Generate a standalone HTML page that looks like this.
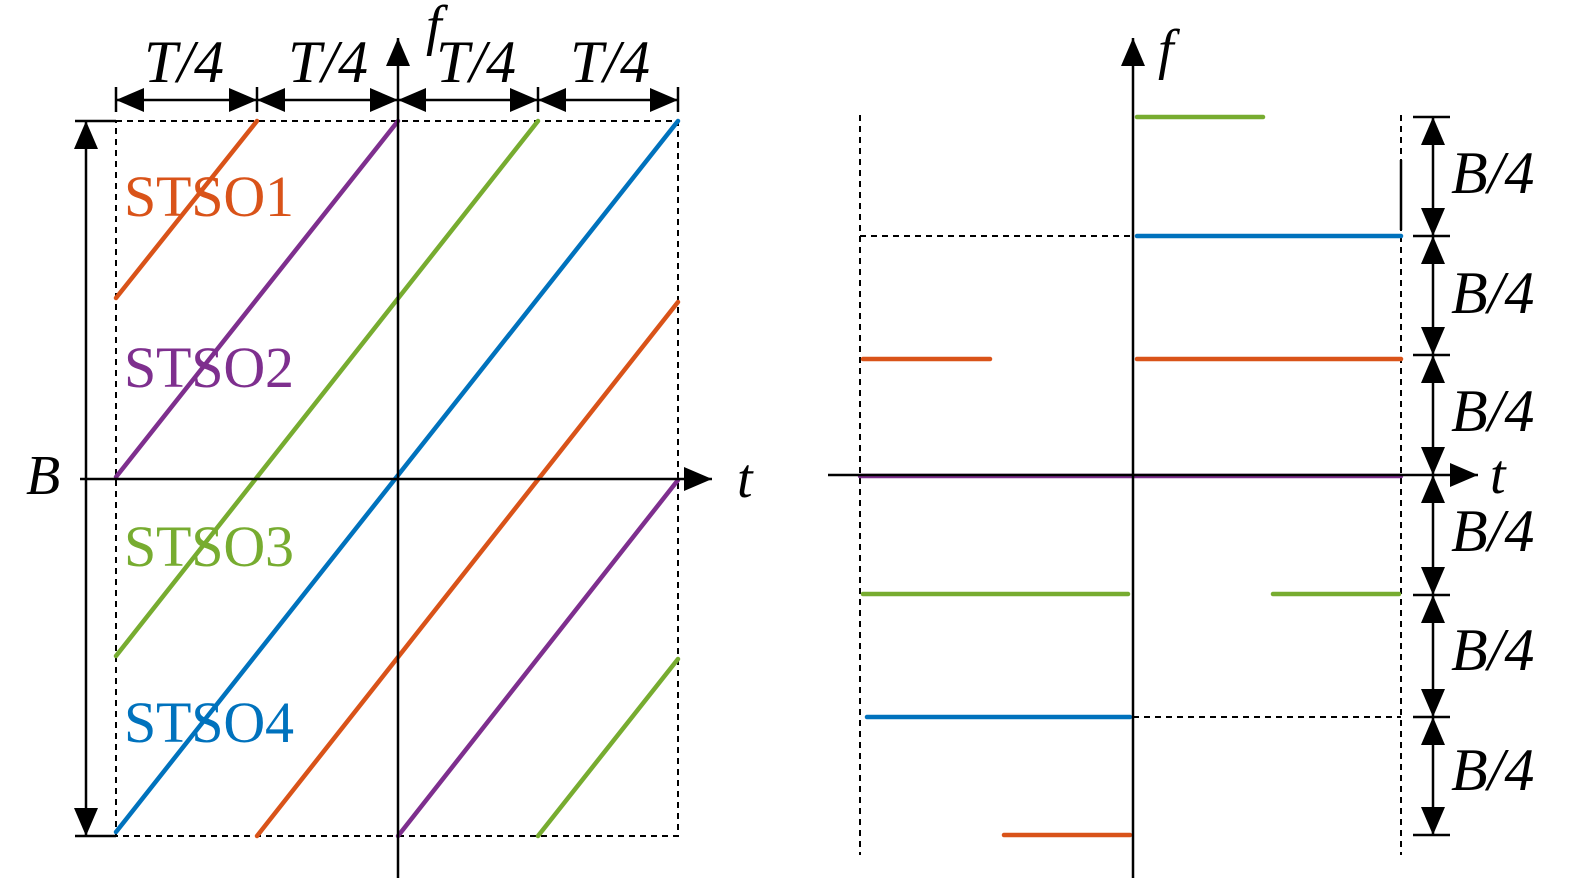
<!DOCTYPE html>
<html><head><style>body{margin:0;background:#fff}</style></head><body>
<svg width="1575" height="886" xmlns="http://www.w3.org/2000/svg" font-family="Liberation Serif, serif">
<defs>
<marker id="a" viewBox="0 0 28 24" refX="28" refY="12" markerWidth="28" markerHeight="24" markerUnits="userSpaceOnUse" orient="auto-start-reverse"><path d="M0,0L28,12L0,24z"/></marker>
</defs>
<g stroke="#000" stroke-width="2" stroke-dasharray="6,5" fill="none">
<rect x="116" y="121" width="562" height="715"/>
<line x1="860" y1="115" x2="860" y2="855"/>
<line x1="1401" y1="115" x2="1401" y2="855"/>
<line x1="860" y1="236" x2="1133" y2="236"/>
<line x1="1133" y1="717" x2="1401" y2="717"/>
</g>
<g stroke-width="4.5" stroke-linecap="round">
<line x1="116" y1="298" x2="257" y2="121" stroke="#d95319"/>
<line x1="257" y1="836" x2="678" y2="302" stroke="#d95319"/>
<line x1="116" y1="477" x2="398" y2="121" stroke="#7e2f8e"/>
<line x1="398" y1="836" x2="678" y2="480" stroke="#7e2f8e"/>
<line x1="116" y1="656" x2="538" y2="121" stroke="#77ac30"/>
<line x1="538" y1="836" x2="678" y2="659" stroke="#77ac30"/>
<line x1="116" y1="832" x2="678" y2="121" stroke="#0072bd"/>
<line x1="1137" y1="117" x2="1263" y2="117" stroke="#77ac30"/>
<line x1="1137" y1="236" x2="1401" y2="236" stroke="#0072bd"/>
<line x1="863" y1="359" x2="990" y2="359" stroke="#d95319"/>
<line x1="1137" y1="359" x2="1401" y2="359" stroke="#d95319"/>
<line x1="860" y1="476" x2="1401" y2="476" stroke="#7e2f8e"/>
<line x1="863" y1="594" x2="1128" y2="594" stroke="#77ac30"/>
<line x1="1273" y1="594" x2="1399" y2="594" stroke="#77ac30"/>
<line x1="867" y1="717" x2="1130" y2="717" stroke="#0072bd"/>
<line x1="1004" y1="835" x2="1130" y2="835" stroke="#d95319"/>
</g>
<g stroke="#000" stroke-width="2.5" fill="none">
<line x1="398" y1="878" x2="398" y2="38" marker-end="url(#a)"/>
<line x1="80" y1="479" x2="712" y2="479" marker-end="url(#a)"/>
<line x1="1133" y1="878" x2="1133" y2="38" marker-end="url(#a)"/>
<line x1="828" y1="475" x2="1478" y2="475" marker-end="url(#a)"/>
<line x1="116" y1="87" x2="116" y2="112"/><line x1="257" y1="87" x2="257" y2="112"/>
<line x1="538" y1="87" x2="538" y2="112"/><line x1="678" y1="87" x2="678" y2="112"/>
<line x1="75" y1="121" x2="116" y2="121"/><line x1="75" y1="836" x2="116" y2="836"/>
<line x1="1401" y1="160" x2="1401" y2="230"/>
<line x1="1413" y1="117" x2="1450" y2="117"/><line x1="1413" y1="236" x2="1450" y2="236"/>
<line x1="1413" y1="355" x2="1450" y2="355"/><line x1="1413" y1="595" x2="1450" y2="595"/>
<line x1="1413" y1="717" x2="1450" y2="717"/><line x1="1413" y1="835" x2="1450" y2="835"/>
</g>
<g stroke="#000" stroke-width="2.5">
<line x1="116" y1="100" x2="257" y2="100" marker-start="url(#a)" marker-end="url(#a)"/>
<line x1="257" y1="100" x2="398" y2="100" marker-start="url(#a)" marker-end="url(#a)"/>
<line x1="398" y1="100" x2="538" y2="100" marker-start="url(#a)" marker-end="url(#a)"/>
<line x1="538" y1="100" x2="678" y2="100" marker-start="url(#a)" marker-end="url(#a)"/>
<line x1="86" y1="121" x2="86" y2="836" marker-start="url(#a)" marker-end="url(#a)"/>
<line x1="1433" y1="117" x2="1433" y2="236" marker-start="url(#a)" marker-end="url(#a)"/>
<line x1="1433" y1="236" x2="1433" y2="355" marker-start="url(#a)" marker-end="url(#a)"/>
<line x1="1433" y1="355" x2="1433" y2="475" marker-start="url(#a)" marker-end="url(#a)"/>
<line x1="1433" y1="475" x2="1433" y2="595" marker-start="url(#a)" marker-end="url(#a)"/>
<line x1="1433" y1="595" x2="1433" y2="717" marker-start="url(#a)" marker-end="url(#a)"/>
<line x1="1433" y1="717" x2="1433" y2="835" marker-start="url(#a)" marker-end="url(#a)"/>
</g>
<g font-size="60" font-style="italic">
<text x="144" y="82">T/4</text><text x="288" y="82">T/4</text>
<text x="436" y="82">T/4</text><text x="570" y="82">T/4</text>
<text x="426" y="44" font-size="56">f</text><text x="737" y="497" font-size="56">t</text>
<text x="26" y="494" font-size="56">B</text>
<text x="1158" y="68" font-size="56">f</text><text x="1490" y="493" font-size="56">t</text>
<text x="1451" y="193">B/4</text><text x="1451" y="313">B/4</text>
<text x="1451" y="431">B/4</text><text x="1451" y="551">B/4</text>
<text x="1451" y="670">B/4</text><text x="1451" y="790">B/4</text>
</g>
<g font-size="58">
<text x="124" y="216" fill="#d95319" textLength="170">STSO1</text>
<text x="124" y="387" fill="#7e2f8e" textLength="170">STSO2</text>
<text x="124" y="566" fill="#77ac30" textLength="170">STSO3</text>
<text x="124" y="742" fill="#0072bd" textLength="170">STSO4</text>
</g>
</svg>
</body></html>
